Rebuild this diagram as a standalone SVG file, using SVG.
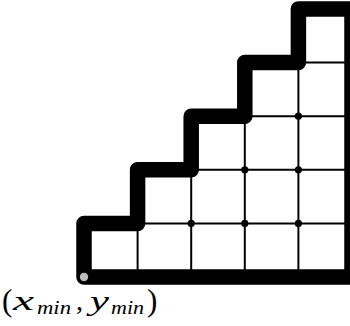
<svg xmlns="http://www.w3.org/2000/svg" width="350" height="326" viewBox="0 0 350 326">
<style>
.thin{stroke:#000;stroke-width:2;fill:none}
.thick{stroke:#000;stroke-width:15.5;fill:none;stroke-linejoin:round;stroke-linecap:round}
.dot{fill:#000}
.lbl{font-family:"Liberation Serif","DejaVu Serif",serif;font-size:28px;fill:#000}
.par{font-size:31px}
.it{font-style:italic}
.sub{font-style:italic;font-size:19px}
</style>
<rect width="350" height="326" fill="#fff"/>
<g id="grid-lines">
<line class="thin" x1="137.6" y1="223.4" x2="137.6" y2="277"/>
<line class="thin" x1="191.2" y1="169.8" x2="191.2" y2="277"/>
<line class="thin" x1="244.8" y1="116.2" x2="244.8" y2="277"/>
<line class="thin" x1="298.4" y1="62.6" x2="298.4" y2="277"/>
<line class="thin" x1="137.6" y1="223.4" x2="352" y2="223.4"/>
<line class="thin" x1="191.2" y1="169.8" x2="352" y2="169.8"/>
<line class="thin" x1="244.8" y1="116.2" x2="352" y2="116.2"/>
<line class="thin" x1="298.4" y1="62.6" x2="352" y2="62.6"/>
</g>
<g id="boundary">
<path class="thick" d="M84,277 V223.4 H137.6 V169.8 H191.2 V116.2 H244.8 V62.6 H298.4 V9 H352 V277 Z"/>
</g>
<g id="points">
<circle class="dot" cx="191.2" cy="223.4" r="3.6"/>
<circle class="dot" cx="244.8" cy="223.4" r="3.6"/>
<circle class="dot" cx="298.4" cy="223.4" r="3.6"/>
<circle class="dot" cx="244.8" cy="169.8" r="3.6"/>
<circle class="dot" cx="298.4" cy="169.8" r="3.6"/>
<circle class="dot" cx="298.4" cy="116.2" r="3.6"/>
</g>
<g id="origin">
<circle cx="84" cy="277" r="4.2" fill="#bdbdbd"/>
</g>
<g id="label">
<text class="lbl" y="310"><tspan class="par" x="2" y="311">(</tspan><tspan class="it" x="13" y="310" textLength="21" lengthAdjust="spacingAndGlyphs">x</tspan><tspan class="sub" x="37" y="313.5" textLength="34" lengthAdjust="spacingAndGlyphs">min</tspan><tspan x="76" y="310">,</tspan><tspan class="it" x="90" textLength="19" lengthAdjust="spacingAndGlyphs">y</tspan><tspan class="sub" x="111" y="313.5" textLength="33" lengthAdjust="spacingAndGlyphs">min</tspan><tspan class="par" x="147" y="311">)</tspan></text>
</g>
</svg>
